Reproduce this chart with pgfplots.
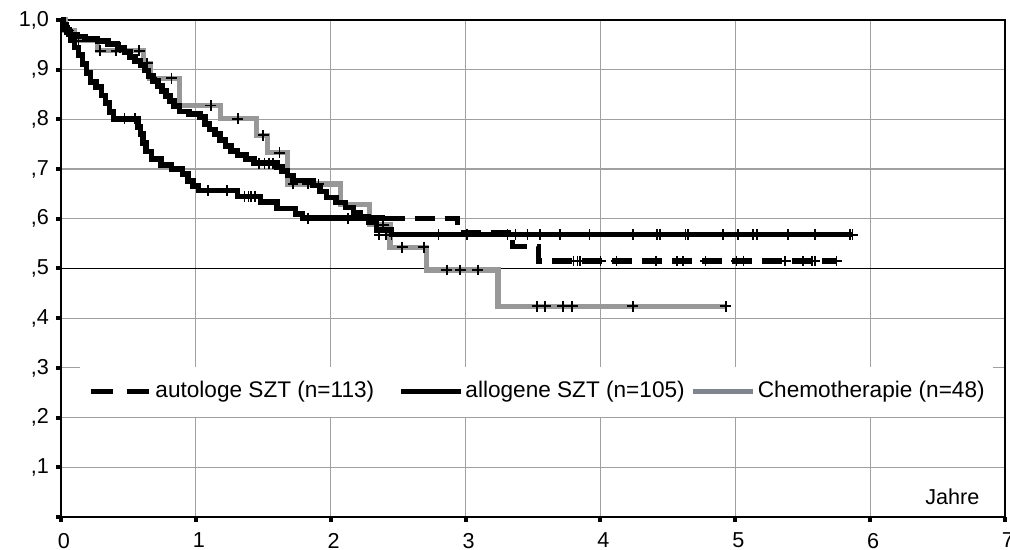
\documentclass[border=0pt]{standalone}
\usepackage{fontspec}
\setmainfont{Liberation Sans}
\usepackage{pgfplots}
\pgfplotsset{compat=1.18}
\definecolor{chemo}{RGB}{152,152,152}
\definecolor{legc}{RGB}{128,132,140}
\definecolor{gridc}{RGB}{160,160,160}
\pgfplotsset{
 legA/.style={legend image code/.code={\draw[black,line width=2.6pt,dash pattern=on 11pt off 7pt] (0pt,0pt) -- (30pt,0pt);}},
 legB/.style={legend image code/.code={\draw[black,line width=2.6pt] (0pt,0pt) -- (30pt,0pt);}},
 legC/.style={legend image code/.code={\draw[legc,line width=2.6pt] (0pt,0pt) -- (30pt,0pt);}},
 cens/.style={only marks, mark=+, mark size=2.7pt, mark options={line width=0.85pt, black, solid}, forget plot},
}
\begin{document}
\begin{tikzpicture}
\begin{axis}[
  at={(0,0)}, anchor=south west,
  scale only axis, width=472pt, height=248.5pt,
  xmin=0, xmax=7, ymin=0, ymax=1,
  clip=false,
  axis line style={black, line width=1.2pt},
  xtick={0,1,2,3,4,5,6,7}, xticklabels={0,1,2,3,4,5,6,7},
  ytick={0,0.1,0.2,0.3,0.4,0.5,0.6,0.7,0.8,0.9,1},
  yticklabels={{},{,1},{,2},{,3},{,4},{,5},{,6},{,7},{,8},{,9},{1,0}},
  tick align=outside, xtick pos=left, ytick pos=left,
  major tick length=2.5pt,
  tick style={black, line width=2pt},
  grid=major, major grid style={gridc, line width=0.6pt},
  tick label style={font=\fontsize{10.8}{12}\selectfont},
  xticklabel style={yshift=-2pt, xshift=1.5pt},
  /pgf/number format/assume math mode=true,
  legend columns=3,
  legend style={at={(axis cs:0.14,0.2525)}, anchor=west, draw=none, fill=white,
    font=\fontsize{11.3}{13}\selectfont, inner xsep=4pt, inner ysep=5pt,
    nodes={inner xsep=0pt, inner ysep=2pt, text height=8.5pt, text depth=2.5pt},
    /tikz/every odd column/.append style={column sep=1pt},
    /tikz/every even column/.append style={column sep=3pt}},
]
% reference line at 0.5
\addplot[black, line width=0.9pt, forget plot] coordinates {(0,0.5) (7,0.5)};
% Chemotherapie
\addplot[chemo, line width=2.6pt, const plot, forget plot] coordinates {
(0,1.000) (0.03,0.979) (0.10,0.958) (0.27,0.938) (0.61,0.913) (0.66,0.883) (0.88,0.828)
(1.18,0.801) (1.45,0.768) (1.53,0.733) (1.68,0.670) (2.07,0.628) (2.29,0.588) (2.44,0.543)
(2.71,0.497) (3.24,0.424) (4.93,0.424)};
% allogene SZT
\addplot[black, line width=2.8pt, const plot, forget plot] coordinates {
(0,1.0) (0.01,0.990) (0.03,0.981) (0.06,0.971) (0.12,0.967) (0.18,0.962) (0.27,0.958)
(0.35,0.952) (0.42,0.945) (0.47,0.936) (0.51,0.926) (0.55,0.917) (0.59,0.909) (0.62,0.898)
(0.65,0.888) (0.68,0.877) (0.72,0.867) (0.75,0.857) (0.78,0.847) (0.81,0.837) (0.84,0.827)
(0.88,0.816) (0.95,0.811) (1.03,0.805) (1.07,0.791) (1.10,0.780) (1.14,0.770) (1.18,0.758)
(1.22,0.746) (1.26,0.737) (1.31,0.728) (1.37,0.720) (1.43,0.712) (1.60,0.704) (1.64,0.696)
(1.68,0.687) (1.72,0.677) (1.87,0.667) (1.92,0.655) (1.97,0.643) (2.04,0.633) (2.11,0.623)
(2.17,0.613) (2.22,0.603) (2.28,0.594) (2.34,0.577) (2.45,0.568) (5.87,0.568)};
% autologe SZT, early dense part
\addplot[black, line width=2.8pt, const plot, forget plot] coordinates {
(0,1.0) (0.02,0.990) (0.04,0.976) (0.07,0.960) (0.10,0.945) (0.13,0.929) (0.16,0.912)
(0.19,0.893) (0.22,0.875) (0.26,0.865) (0.30,0.848) (0.33,0.833) (0.36,0.815) (0.39,0.801)
(0.57,0.785) (0.59,0.770) (0.61,0.752) (0.63,0.735) (0.67,0.720) (0.74,0.708) (0.82,0.700)
(0.90,0.690) (0.94,0.676) (0.98,0.666) (1.02,0.657) (1.31,0.645) (1.48,0.634) (1.60,0.621)
(1.74,0.610) (1.79,0.601) (2.40,0.601)};
% autologe SZT, dashed part
\addplot[black, line width=2.6pt, const plot, dash pattern=on 10pt off 5pt, forget plot] coordinates {
(2.40,0.601) (2.94,0.573) (3.35,0.545) (3.54,0.515) (5.75,0.515)};
% censored observations
\addplot[cens] coordinates {
(0.06,0.979) (0.13,0.958) (0.29,0.938) (0.41,0.938) (0.58,0.938) (0.64,0.913) (0.67,0.883)
(0.82,0.883) (1.11,0.828) (1.31,0.801) (1.50,0.768) (1.62,0.733) (1.72,0.670) (1.83,0.670)
(1.91,0.670) (2.39,0.588) (2.53,0.543) (2.69,0.543) (2.86,0.497) (2.96,0.497) (3.09,0.497)
(3.53,0.424) (3.59,0.424) (3.72,0.424) (3.79,0.424) (4.24,0.424) (4.93,0.424)};
\addplot[cens] coordinates {
(0.44,0.945) (1.47,0.712) (1.51,0.712) (1.54,0.712) (1.57,0.712) (2.36,0.568) (2.41,0.568)
(2.45,0.568) (2.80,0.568) (3.01,0.568) (3.31,0.568) (3.37,0.568) (3.46,0.568) (3.55,0.568)
(3.70,0.568) (3.92,0.568) (4.24,0.568) (4.42,0.568) (4.44,0.568) (4.63,0.568) (4.65,0.568)
(4.91,0.568) (5.02,0.568) (5.13,0.568) (5.16,0.568) (5.39,0.568) (5.59,0.568) (5.85,0.568)
(5.87,0.568)};
\addplot[cens] coordinates {
(0.47,0.801) (0.55,0.801) (1.09,0.657) (1.23,0.657) (1.36,0.645) (1.39,0.645) (1.41,0.645)
(1.44,0.645) (1.83,0.601) (2.13,0.601) (3.80,0.515) (3.83,0.515) (3.85,0.515) (4.00,0.515)
(4.12,0.515) (4.41,0.515) (4.57,0.515) (4.61,0.515) (4.78,0.515) (5.01,0.515) (5.06,0.515)
(5.37,0.515) (5.50,0.515) (5.57,0.515) (5.59,0.515) (5.75,0.515)};
\addlegendimage{legA}
\addlegendentry{autologe SZT (n=113)\hspace{9pt}\mbox{}}
\addlegendimage{legB}
\addlegendentry{allogene SZT (n=105)}
\addlegendimage{legC}
\addlegendentry{Chemotherapie (n=48)}
\node[font=\fontsize{10.8}{12}\selectfont] at (axis cs:6.61,0.04) {Jahre};
\end{axis}
\pgfresetboundingbox
\useasboundingbox (-30.5pt,-16.5pt) rectangle (474.5pt,258.5pt);
\end{tikzpicture}
\end{document}
